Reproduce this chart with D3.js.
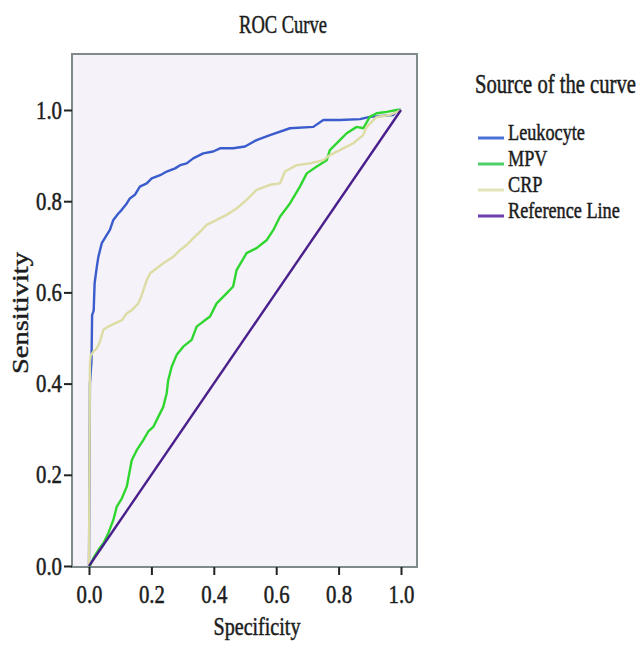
<!DOCTYPE html>
<html lang="en">
<head>
<meta charset="UTF-8">
<title>ROC Curve</title>
<script src="https://d3js.org/d3.v7.min.js"></script>
<style>
  body { margin: 0; background: #fff; }
  svg { display: block; }
  text { font-family: "Liberation Serif", "Times New Roman", serif; fill: #1c1c1c; stroke: #1c1c1c; stroke-width: 0.5px; }
</style>
</head>
<body>
<script>
// values (x = 1 - specificity as plotted, y = sensitivity)
const curveNames = ["Leukocyte", "MPV", "CRP", "Reference Line"];

const leukoX = [0, 0.003, 0.005, 0.008, 0.01, 0.015, 0.018, 0.025, 0.03, 0.041, 0.057, 0.067, 0.078, 0.094, 0.105,
  0.121, 0.131, 0.147, 0.163, 0.185, 0.201, 0.228, 0.249, 0.276, 0.292, 0.313, 0.334, 0.366, 0.398, 0.42,
  0.462, 0.5, 0.537, 0.58, 0.644, 0.719, 0.751, 0.804, 0.869, 0.9, 0.975, 0.99, 1];
const leukoY = [0, 0.4, 0.42, 0.45, 0.55, 0.56, 0.62, 0.656, 0.678, 0.708, 0.726, 0.737, 0.759, 0.773, 0.781,
  0.795, 0.806, 0.814, 0.832, 0.839, 0.85, 0.857, 0.865, 0.872, 0.879, 0.883, 0.894, 0.905, 0.909, 0.916,
  0.916, 0.92, 0.934, 0.945, 0.96, 0.963, 0.978, 0.978, 0.98, 0.985, 0.989, 1.0, 1];

const mpvX = [0, 0.003, 0.014, 0.03, 0.046, 0.062, 0.078, 0.089, 0.105, 0.121, 0.137, 0.153, 0.174, 0.19, 0.206,
  0.222, 0.238, 0.249, 0.254, 0.265, 0.281, 0.302, 0.329, 0.345, 0.366, 0.388, 0.409, 0.441, 0.462, 0.473,
  0.505, 0.537, 0.57, 0.591, 0.612, 0.644, 0.676, 0.698, 0.73, 0.762, 0.772, 0.804, 0.826, 0.858, 0.879,
  0.9, 0.922, 0.954, 0.986, 1];
const mpvY = [0, 0, 0.017, 0.035, 0.05, 0.072, 0.101, 0.13, 0.148, 0.174, 0.232, 0.254, 0.276, 0.295, 0.305,
  0.327, 0.349, 0.379, 0.408, 0.437, 0.463, 0.481, 0.496, 0.525, 0.536, 0.547, 0.576, 0.598, 0.613, 0.649,
  0.686, 0.697, 0.715, 0.737, 0.766, 0.795, 0.832, 0.861, 0.876, 0.89, 0.912, 0.934, 0.949, 0.963, 0.96,
  0.985, 0.993, 0.996, 1.0, 1];

const crpX = [0, 0.003, 0.005, 0.014, 0.025, 0.035, 0.046, 0.062, 0.083, 0.105, 0.121, 0.137, 0.158, 0.169, 0.185,
  0.196, 0.217, 0.238, 0.27, 0.292, 0.313, 0.334, 0.356, 0.377, 0.409, 0.441, 0.473, 0.505, 0.537, 0.58,
  0.612, 0.628, 0.666, 0.708, 0.751, 0.772, 0.804, 0.847, 0.879, 0.89, 0.922, 0.965, 1];
const crpY = [0, 0.445, 0.46, 0.47, 0.477, 0.492, 0.518, 0.525, 0.532, 0.539, 0.554, 0.561, 0.576, 0.594, 0.627,
  0.642, 0.653, 0.664, 0.678, 0.693, 0.704, 0.719, 0.733, 0.748, 0.759, 0.77, 0.784, 0.803, 0.825, 0.836,
  0.839, 0.865, 0.879, 0.883, 0.89, 0.901, 0.912, 0.927, 0.945, 0.963, 0.985, 0.989, 1];

const refX = [0, 1];
const refY = [0, 1];

const axisTicks = [0, 0.2, 0.4, 0.6, 0.8, 1.0];

const width = 640, height = 646;
const frame = { left: 72, top: 54, right: 417, bottom: 567 };

const svg = d3.select("body").append("svg")
  .attr("width", width)
  .attr("height", height);

const x = d3.scaleLinear().domain([0, 1]).range([89, 401]);
const y = d3.scaleLinear().domain([0, 1]).range([566, 110]);

// the picture's text is tall and narrow: squeeze each label to the width seen
function squeeze(sel, width) {
  return width / sel.node().getComputedTextLength();
}

function label(str, px, py, size, width, anchor) {
  const t = svg.append("text")
    .attr("font-size", size)
    .attr("text-anchor", anchor || "start")
    .text(str);
  t.attr("transform", `translate(${px},${py}) scale(${squeeze(t, width)},1)`);
  return t;
}

label("ROC Curve", 283, 33, 26, 88, "middle");

svg.append("rect")
  .attr("x", frame.left).attr("y", frame.top)
  .attr("width", frame.right - frame.left)
  .attr("height", frame.bottom - frame.top)
  .attr("fill", "#f5f2f9")
  .attr("stroke", "#7f8a8a")
  .attr("stroke-width", 2);

const series = [
  { name: curveNames[0], xs: leukoX, ys: leukoY, color: "#3a5ccc", legend: "#4a72d6" },
  { name: curveNames[1], xs: mpvX, ys: mpvY, color: "#2fd62f", legend: "#4fcf6a" },
  { name: curveNames[2], xs: crpX, ys: crpY, color: "#dcdca4", legend: "#e2e4b8" },
  { name: curveNames[3], xs: refX, ys: refY, color: "#4a1f8c", legend: "#6a3fb0" }
];

const line = d3.line()
  .x(d => x(d[0]))
  .y(d => y(d[1]));

svg.append("g")
  .selectAll("path")
  .data(series)
  .join("path")
  .attr("d", d => line(d3.zip(d.xs, d.ys)))
  .attr("fill", "none")
  .attr("stroke", d => d.color)
  .attr("stroke-width", 2.4)
  .attr("stroke-linejoin", "round");

// axes
const yAxis = svg.append("g")
  .attr("transform", `translate(${frame.left},0)`)
  .call(d3.axisLeft(y).tickValues(axisTicks).tickFormat(d3.format(".1f")).tickSize(8).tickPadding(2));

const xAxis = svg.append("g")
  .attr("transform", `translate(0,${frame.bottom})`)
  .call(d3.axisBottom(x).tickValues(axisTicks).tickFormat(d3.format(".1f")).tickSize(8).tickPadding(10));

[yAxis, xAxis].forEach(g => {
  g.select(".domain").remove();
  g.selectAll(".tick line").attr("stroke", "#222").attr("stroke-width", 2);
  g.selectAll(".tick text")
    .attr("font-family", null)
    .attr("font-size", 25)
    .attr("fill", "#1c1c1c")
    .each(function () {
      const t = d3.select(this);
      const s = squeeze(t, 26);
      t.attr("x", (+t.attr("x") || 0) / s).attr("transform", `scale(${s},1)`);
    });
});

label("Specificity", 257, 635, 25, 87, "middle");

// rotated title: keep its length as seen, squeeze the glyph height
const sens = svg.append("text")
  .attr("font-size", 28)
  .attr("text-anchor", "middle")
  .text("Sensitivity");
const sensScale = squeeze(sens, 122);
sens.attr("transform", `translate(28,313) rotate(-90) scale(${sensScale},${sensScale * 0.78})`);

// legend
label("Source of the curve", 475, 93, 27, 161);

const legendY = d3.scalePoint().domain(curveNames).range([138, 216]);

const legend = svg.append("g")
  .selectAll("g")
  .data(series)
  .join("g")
  .attr("transform", d => `translate(0,${legendY(d.name)})`);

legend.append("line")
  .attr("x1", 478).attr("x2", 504)
  .attr("stroke", d => d.legend)
  .attr("stroke-width", 3);

legend.append("text")
  .attr("font-size", 24)
  .text(d => d.name)
  .attr("transform", "translate(508,2) scale(0.76,1)");
</script>
</body>
</html>
